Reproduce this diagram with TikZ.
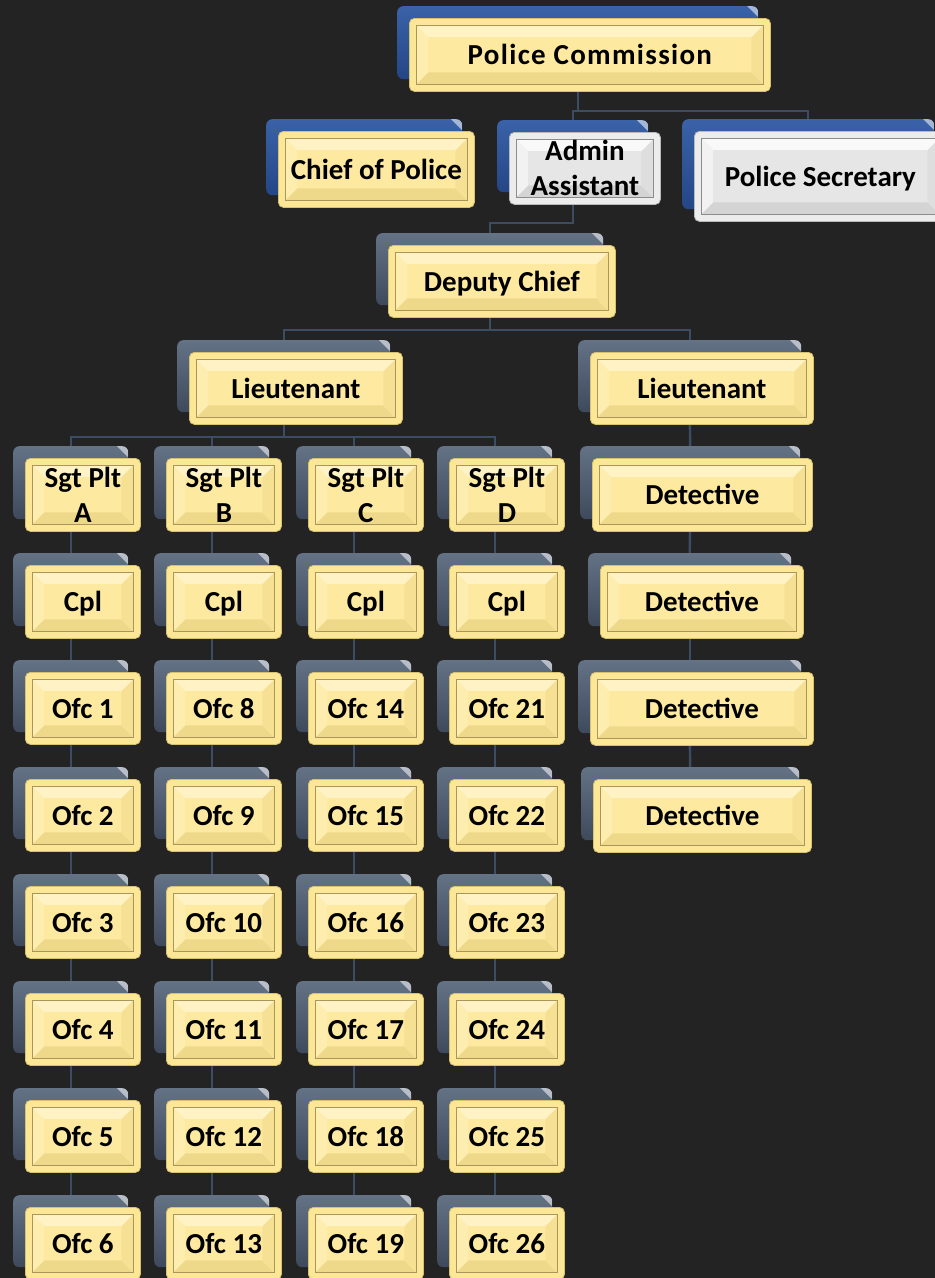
\documentclass[tikz,border=0pt]{standalone}
\usepackage{fontspec}
\setmainfont{Carlito}
\usetikzlibrary{calc}
\pgfdeclarelayer{background}
\pgfsetlayers{background,main}
\definecolor{bgc}{RGB}{35,35,35}
\definecolor{lnc}{RGB}{60,76,98}
% yellow front
\definecolor{yelo}{RGB}{252,231,150}
\definecolor{yeledge}{RGB}{215,192,110}
\definecolor{yelc}{RGB}{253,234,160}
\definecolor{yelt}{RGB}{255,243,198}
\definecolor{yell}{RGB}{253,238,176}
\definecolor{yelb}{RGB}{238,216,138}
\definecolor{yelr}{RGB}{246,224,148}
\definecolor{yelline}{RGB}{170,150,92}
% grey front
\definecolor{gryo}{RGB}{236,236,236}
\definecolor{gryedge}{RGB}{185,185,185}
\definecolor{gryc}{RGB}{230,230,230}
\definecolor{gryt}{RGB}{249,249,249}
\definecolor{gryl}{RGB}{242,242,242}
\definecolor{gryb}{RGB}{212,212,212}
\definecolor{gryr}{RGB}{222,222,222}
\definecolor{gryline}{RGB}{140,140,140}
% shadows
\definecolor{slatet}{RGB}{100,114,134}
\definecolor{slateb}{RGB}{62,74,92}
\definecolor{bluet}{RGB}{58,98,168}
\definecolor{blueb}{RGB}{36,70,135}

\newcommand\bevel[1]{%
  \path (path picture bounding box.north west) coordinate (pnw)
        (path picture bounding box.north east) coordinate (pne)
        (path picture bounding box.south east) coordinate (pse)
        (path picture bounding box.south west) coordinate (psw);
  \path ([shift={(7,7)}]pnw) coordinate (a1) ([shift={(-7,7)}]pne) coordinate (a2)
        ([shift={(-7,-7)}]pse) coordinate (a3) ([shift={(7,-7)}]psw) coordinate (a4)
        ([shift={(19,19)}]pnw) coordinate (c1) ([shift={(-19,19)}]pne) coordinate (c2)
        ([shift={(-19,-19)}]pse) coordinate (c3) ([shift={(19,-19)}]psw) coordinate (c4);
  \fill[sharp corners,#1c] (a1) -- (a2) -- (a3) -- (a4) -- cycle;
  \fill[sharp corners,#1t] (a1) -- (a2) -- (c2) -- (c1) -- cycle;
  \fill[sharp corners,#1l] (a1) -- (c1) -- (c4) -- (a4) -- cycle;
  \fill[sharp corners,#1b] (a4) -- (c4) -- (c3) -- (a3) -- cycle;
  \fill[sharp corners,#1r] (a2) -- (c2) -- (c3) -- (a3) -- cycle;
  \fill[sharp corners,#1c] (c1) -- (c2) -- (c3) -- (c4) -- cycle;
  \draw[sharp corners,#1line,line width=0.9] (a1) -- (a2) -- (a3) -- (a4) -- cycle;
}

\tikzset{
  conn/.style={draw=lnc, line width=2.4},
  shadslate/.style={rounded corners=6, top color=slatet, bottom color=slateb, draw=none, inner sep=0pt,
    path picture={\fill[white,opacity=.55,sharp corners] ([shift={(-11,0)}]path picture bounding box.north east) -- (path picture bounding box.north east) -- ([shift={(0,11)}]path picture bounding box.north east) -- cycle;}},
  shadblue/.style={rounded corners=6, top color=bluet, bottom color=blueb, draw=none, inner sep=0pt,
    path picture={\fill[white,opacity=.55,sharp corners] ([shift={(-11,0)}]path picture bounding box.north east) -- (path picture bounding box.north east) -- ([shift={(0,11)}]path picture bounding box.north east) -- cycle;}},
  frontbox/.style={rounded corners=5, inner sep=0pt, draw=#1edge, line width=0.8, fill=#1o,
    font=\bfseries\fontsize{29}{35}\selectfont, align=center, text=black,
    path picture={\bevel{#1}}},
  oneline/.style={text height=20pt, text depth=0pt},
}

% name, shadow-left x, shadow-top y, w, h, shadow style, front colour, extra, text
\newcommand\ob[9]{%
  \node[#6, minimum width=#4, minimum height=#5, anchor=north west] (#1S) at (#2,#3) {};
  \node[frontbox=#7, minimum width=#4, minimum height=#5, anchor=north west, #8] (#1)
       at ([shift={(12,12)}]#1S.north west) {#9};
}

\begin{document}
\begin{tikzpicture}[x=1pt,y=-1pt]
\useasboundingbox (0,0) rectangle (935,1278);
\begin{pgfonlayer}{background}
  \fill[bgc] (-5,-5) rectangle (945,1285);
\end{pgfonlayer}

\ob{pc}{397}{6}{361}{73}{shadblue}{yel}{oneline}{\addfontfeature{LetterSpace=4.5}Police Commission}
\ob{chief}{266}{119}{196}{76}{shadblue}{yel}{oneline}{Chief of Police}
\ob{ad}{497}{120}{151}{72}{shadblue}{gry}{}{Admin\\Assistant}
\ob{ps}{682}{119}{252}{90}{shadblue}{gry}{oneline}{Police Secretary}
\ob{dep}{376}{233}{227}{72}{shadslate}{yel}{oneline}{Deputy Chief}
\ob{ltl}{177}{340}{213}{72}{shadslate}{yel}{oneline}{Lieutenant}
\ob{ltr}{578}{340}{223}{72}{shadslate}{yel}{oneline}{Lieutenant}

\foreach \cN/\cX/\cL/\cS in {a/13/A/1, b/154/B/8, c/296/C/14, d/437/D/21}{
  \ob{\cN0}{\cX}{446}{115}{73}{shadslate}{yel}{}{Sgt Plt\\\cL}
  \ob{\cN1}{\cX}{553}{115}{73}{shadslate}{yel}{oneline}{Cpl}
  \foreach \k in {2,...,7}{
    \pgfmathtruncatemacro\num{\cS+\k-2}
    \pgfmathtruncatemacro\yy{446+107*\k}
    \ob{\cN\k}{\cX}{\yy}{115}{72}{shadslate}{yel}{oneline}{Ofc \num}
  }
}

\ob{det1}{580}{446}{220}{73}{shadslate}{yel}{oneline}{Detective}
\ob{det2}{588}{553}{203}{73}{shadslate}{yel}{oneline}{Detective}
\ob{det3}{578}{660}{223}{73}{shadslate}{yel}{oneline}{Detective}
\ob{det4}{581}{767}{218}{73}{shadslate}{yel}{oneline}{Detective}

\coordinate (bus1) at (0,111);
\coordinate (bus2) at (0,223);
\coordinate (bus3) at (0,330);
\coordinate (bus4) at (0,437);

\begin{pgfonlayer}{background}
  \draw[conn] (pcS.south) -- (pcS.south |- bus1);
  \draw[conn] (adS.north) -- (adS.north |- bus1) -| (psS.north);
  \draw[conn] (adS.south) -- (adS.south |- bus2) -| (depS.north);
  \draw[conn] (depS.south) -- (depS.south |- bus3);
  \draw[conn] (ltlS.north) -- (ltlS.north |- bus3) -| (ltrS.north);
  \draw[conn] (ltlS.south) -- (ltlS.south |- bus4);
  \draw[conn] (a0S.north) -- (a0S.north |- bus4) -| (d0S.north);
  \draw[conn] (b0S.north) -- (b0S.north |- bus4);
  \draw[conn] (c0S.north) -- (c0S.north |- bus4);
  \foreach \cN in {a,b,c,d}{
    \foreach \k in {0,...,6}{
      \pgfmathtruncatemacro\kk{\k+1}
      \draw[conn] (\cN\k S.south) -- (\cN\kk S.north);
    }
  }
  \draw[conn] (ltrS.south) -- (det1S.north);
  \draw[conn] (det1S.south) -- (det2S.north);
  \draw[conn] (det2S.south) -- (det3S.north);
  \draw[conn] (det3S.south) -- (det4S.north);
\end{pgfonlayer}
\end{tikzpicture}
\end{document}
